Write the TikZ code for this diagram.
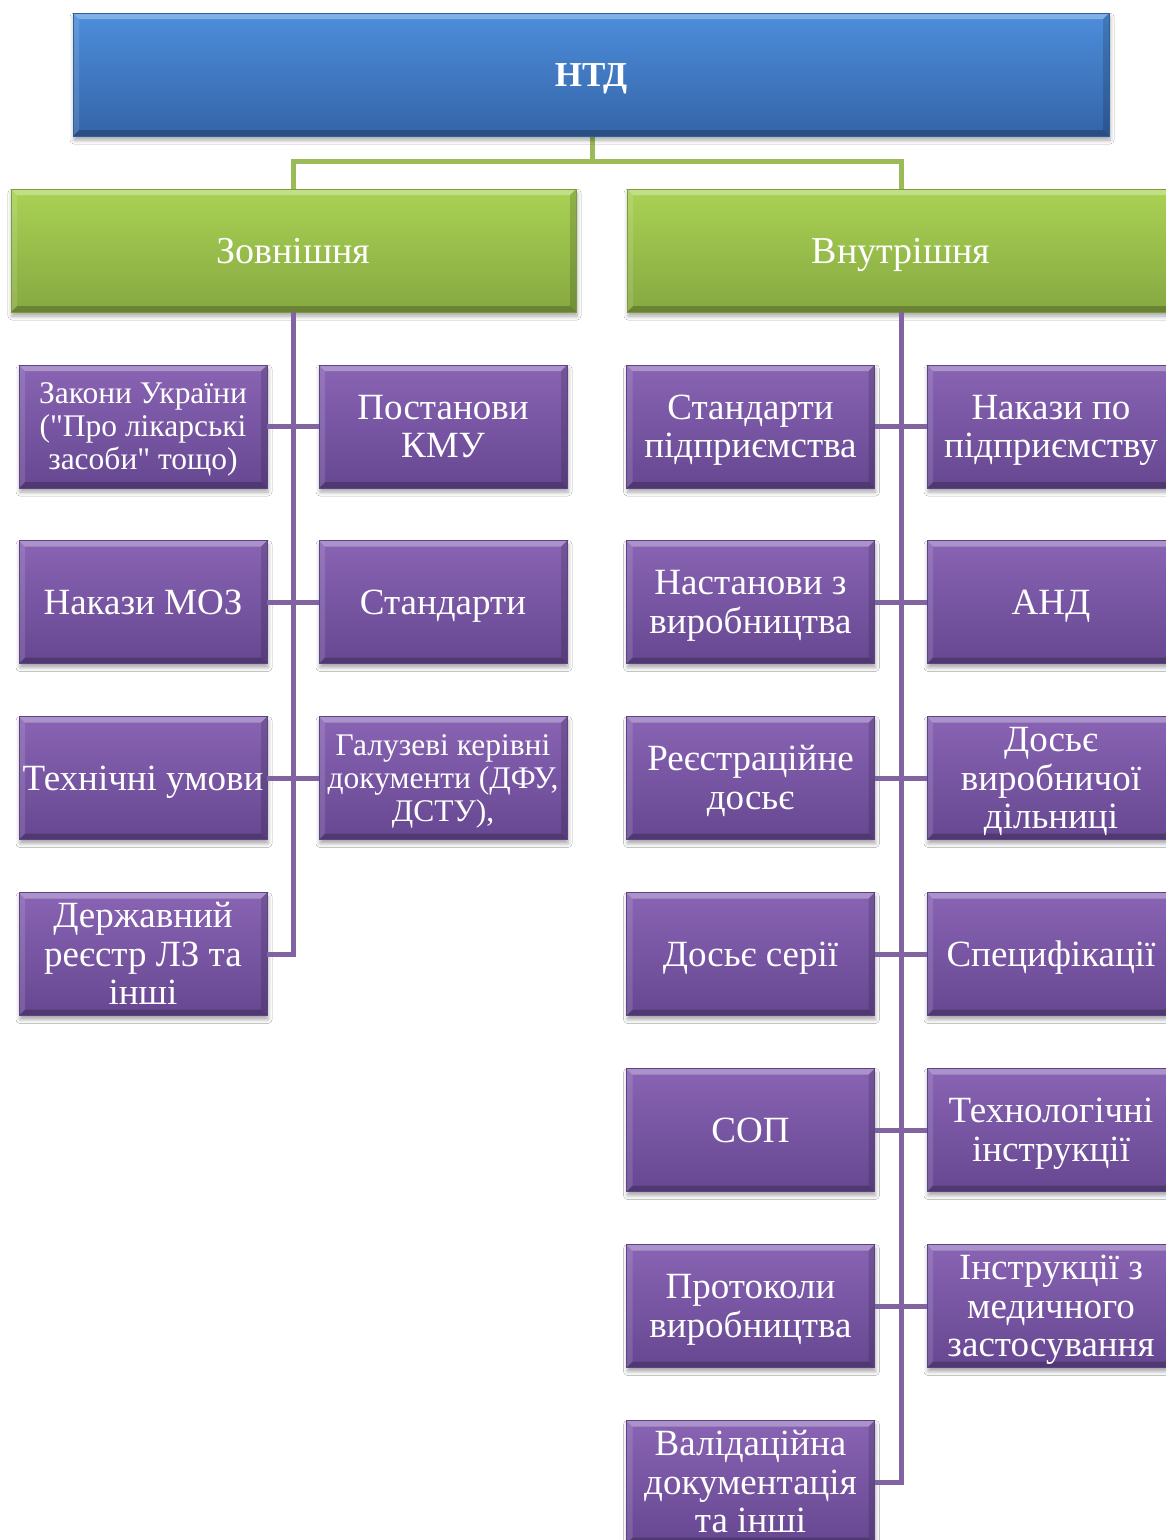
\documentclass[tikz,border=0pt]{standalone}
\usepackage{fontspec}
\setmainfont{Liberation Serif}
\newfontfamily\plainq{Liberation Serif}
\usetikzlibrary{shadows.blur}
\definecolor{btop}{HTML}{4D8EDB}
\definecolor{bbot}{HTML}{3464A8}
\definecolor{bdraw}{HTML}{30609C}
\definecolor{gtop}{HTML}{AAD254}
\definecolor{gbot}{HTML}{86A841}
\definecolor{gdraw}{HTML}{7C9C3C}
\definecolor{ptop}{HTML}{8964B4}
\definecolor{pbot}{HTML}{664791}
\definecolor{pdraw}{HTML}{5C4286}
\definecolor{gline}{HTML}{9BBB59}
\definecolor{pline}{HTML}{8064A2}
\newcommand\topstrut{\rule{0pt}{0.9em}}
\newcommand\botstrut{\rule[-0.24em]{0pt}{0.24em}}
\newcommand\sq{{\plainq"}}
\tikzset{
  bevel/.style={path picture={
    \fill[white,opacity=0.30] (path picture bounding box.north west) -- (path picture bounding box.north east)
      -- ([xshift=-#1,yshift=-#1]path picture bounding box.north east) -- ([xshift=#1,yshift=-#1]path picture bounding box.north west) -- cycle;
    \fill[black,opacity=0.22] (path picture bounding box.south west) -- (path picture bounding box.south east)
      -- ([xshift=-#1,yshift=#1]path picture bounding box.south east) -- ([xshift=#1,yshift=#1]path picture bounding box.south west) -- cycle;
    \fill[white,opacity=0.12] (path picture bounding box.north west) -- ([xshift=#1,yshift=-#1]path picture bounding box.north west)
      -- ([xshift=#1,yshift=#1]path picture bounding box.south west) -- (path picture bounding box.south west) -- cycle;
    \fill[black,opacity=0.15] (path picture bounding box.north east) -- ([xshift=-#1,yshift=-#1]path picture bounding box.north east)
      -- ([xshift=-#1,yshift=#1]path picture bounding box.south east) -- (path picture bounding box.south east) -- cycle;
  }},
  boxbase/.style={rectangle, inner sep=0pt, align=center, text=white,
    line width=0.8pt, bevel=6pt,
    execute at begin node=\topstrut, execute at end node=\botstrut,
    blur shadow={shadow xshift=1pt, shadow yshift=-4pt, shadow blur radius=4pt, shadow opacity=35}},
  bluebox/.style={boxbase, top color=btop, bottom color=bbot, draw=bdraw,
    minimum width=1036pt, minimum height=123pt, font=\fontsize{35}{38}\selectfont\bfseries},
  greenbox/.style={boxbase, top color=gtop, bottom color=gbot, draw=gdraw,
    minimum height=123pt, font=\fontsize{38}{40}\selectfont},
  pbox/.style={boxbase, top color=ptop, bottom color=pbot, draw=pdraw,
    minimum width=248pt, minimum height=123pt, font=\fontsize{37}{38.5}\selectfont},
  psmall/.style={pbox, font=\fontsize{31.5}{33}\selectfont},
  gconn/.style={draw=gline, line width=5pt},
  pconn/.style={draw=pline, line width=5pt},
}
\begin{document}
\begin{tikzpicture}[x=1pt,y=-1pt]
\useasboundingbox (0,0) rectangle (1166,1540);
\clip (0,0) rectangle (1166,1540);
\fill[white] (0,0) rectangle (1166,1540);

% connectors (drawn first)
\coordinate (jt) at (592,161);
\coordinate (ntdb) at (592,136);
\coordinate (zovt) at (293,189);
\coordinate (vnt) at (901,189);
\draw[gconn] (ntdb) -- (jt);
\draw[gconn] (jt) -| (zovt);
\draw[gconn] (jt) -| (vnt);

% top
\node[bluebox] (ntd) at (591,74.5) {НТД};
% green
\node[greenbox, minimum width=565pt] (zov) at (293.5,250.5) {Зовнішня};
\node[greenbox, minimum width=548pt] (vn) at (901,250.5) {Внутрішня};

% left purple
\node[psmall] (a1) at (143,426.5) {\topstrut Закони України\\(\sq Про лікарські\\засоби\sq{} тощо)};
\node[pbox] (b1) at (443,426.5) {\topstrut Постанови\\КМУ};
\node[pbox] (a2) at (143,602) {Накази МОЗ};
\node[pbox] (b2) at (443,602) {Стандарти};
\node[pbox] (a3) at (143,778) {Технічні умови};
\node[psmall] (b3) at (443,778) {\topstrut Галузеві керівні\\документи (ДФУ,\\ДСТУ),};
\node[pbox] (a4) at (143,954) {\topstrut Державний\\реєстр ЛЗ та\\інші};

% right purple
\node[pbox] (c1) at (750.5,426.5) {\topstrut Стандарти\\підприємства};
\node[pbox] (d1) at (1051,426.5) {\topstrut Накази по\\підприємству};
\node[pbox] (c2) at (750.5,602) {\topstrut Настанови з\\виробництва};
\node[pbox] (d2) at (1051,602) {АНД};
\node[pbox] (c3) at (750.5,778) {\topstrut Реєстраційне\\досьє};
\node[pbox] (d3) at (1051,778) {\topstrut Досьє\\виробничої\\дільниці};
\node[pbox] (c4) at (750.5,954) {Досьє серії};
\node[pbox] (d4) at (1051,954) {Специфікації};
\node[pbox] (c5) at (750.5,1130) {СОП};
\node[pbox] (d5) at (1051,1130) {\topstrut Технологічні\\інструкції};
\node[pbox] (c6) at (750.5,1306) {\topstrut Протоколи\\виробництва};
\node[pbox] (d6) at (1051,1306) {\topstrut Інструкції з\\медичного\\застосування};
\node[pbox] (c7) at (750.5,1482) {\topstrut Валідаційна\\документація\\та інші};

% purple connectors
\draw[pconn] (zov.south) |- (a4.east);
\draw[pconn] (a1.east) -- (b1.west);
\draw[pconn] (a2.east) -- (b2.west);
\draw[pconn] (a3.east) -- (b3.west);
\draw[pconn] (vn.south) |- (c7.east);
\draw[pconn] (c1.east) -- (d1.west);
\draw[pconn] (c2.east) -- (d2.west);
\draw[pconn] (c3.east) -- (d3.west);
\draw[pconn] (c4.east) -- (d4.west);
\draw[pconn] (c5.east) -- (d5.west);
\draw[pconn] (c6.east) -- (d6.west);
\end{tikzpicture}
\end{document}
